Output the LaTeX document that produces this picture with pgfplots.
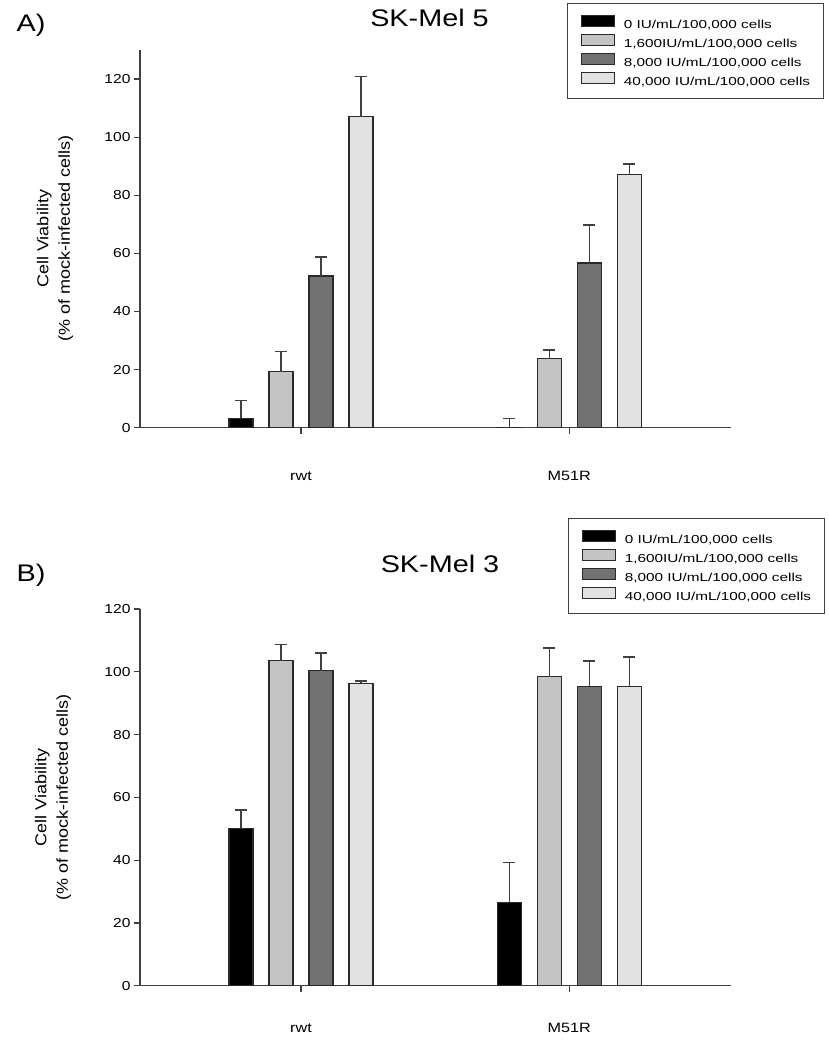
\documentclass[border=0pt]{standalone}
\usepackage{fontspec}
\setmainfont{Liberation Sans}[FakeStretch=1.2]
\newfontfamily\legfont{Liberation Sans}[FakeStretch=1.32]
\newfontfamily\labfont{Liberation Sans}[FakeStretch=1.14]
\usepackage{pgfplots}
\pgfplotsset{compat=1.18}

\definecolor{cA}{HTML}{000000}
\definecolor{cB}{HTML}{C4C4C4}
\definecolor{cC}{HTML}{727272}
\definecolor{cD}{HTML}{E2E2E2}
\definecolor{edge}{HTML}{2A2A2A}
\definecolor{axisgray}{HTML}{404040}

% panel A: SK-Mel 5  (x: 0 = rwt, 1 = M51R; y err = upper SD)
\pgfplotstableread{
x y err
0 3.2 6.1
1 0.0 3.2
}\melAa
\pgfplotstableread{
x y err
0 19.3 6.9
1 23.7 3.1
}\melAb
\pgfplotstableread{
x y err
0 52.2 6.6
1 56.7 13.1
}\melAc
\pgfplotstableread{
x y err
0 107.0 13.8
1 87.0 3.8
}\melAd
% panel B: SK-Mel 3
\pgfplotstableread{
x y err
0 50.2 5.8
1 26.4 12.9
}\melBa
\pgfplotstableread{
x y err
0 103.5 5.1
1 98.4 9.2
}\melBb
\pgfplotstableread{
x y err
0 100.3 5.7
1 95.4 8.0
}\melBc
\pgfplotstableread{
x y err
0 96.3 0.7
1 95.4 9.3
}\melBd

\pgfplotsset{
  panel/.style={
    scale only axis, width=591pt,
    anchor=south west,
    ybar, bar width=24pt,
    xmin=-0.6, xmax=1.603, ymin=0,
    axis lines*=left,
    axis line style={axisgray, line width=1.4pt},
    tick style={axisgray, line width=1.2pt},
    tick align=outside, major tick length=6pt,
    xtick={0,1}, xticklabels={rwt,M51R},
    ytick={0,20,...,120},
    /pgf/number format/assume math mode=true,
    yticklabel style={font=\fontsize{13}{15}\selectfont},
    xticklabel style={font=\fontsize{13.5}{15}\selectfont},
    ylabel={Cell Viability\\(\% of mock-infected cells)},
    ylabel style={align=center, font=\labfont\fontsize{15.8}{21.5}\selectfont},
    legend cell align=left,
    legend image code/.code={\draw[##1, line width=1.1pt] (0pt,-1.5pt) rectangle (33pt,9.5pt); \path (42pt,0pt);},
    legend style={anchor=north west, draw=axisgray, line width=1.3pt,
      inner xsep=13pt, inner ysep=11pt, row sep=3.5pt,
      font=\legfont\fontsize{11.6}{13}\selectfont,
      nodes={inner sep=0pt, text height=9.5pt, text depth=1.5pt}},
    error bars/y dir=plus, error bars/y explicit,
    error bars/error bar style={axisgray, line width=1.4pt},
    error bars/error mark options={rotate=90, axisgray, line width=1.4pt, mark size=6pt},
  },
  s1/.style={fill=cA, draw=edge, line width=1.1pt, bar shift=-60pt},
  s2/.style={fill=cB, draw=edge, line width=1.1pt, bar shift=-20pt},
  s3/.style={fill=cC, draw=edge, line width=1.1pt, bar shift=20pt},
  s4/.style={fill=cD, draw=edge, line width=1.1pt, bar shift=60pt},
}

\begin{document}
\begin{tikzpicture}
\useasboundingbox (0pt,0pt) rectangle (829pt,1050pt);

\begin{axis}[panel, at={(140pt,622.3pt)}, height=377.7pt, ymax=130,
  xticklabel style={anchor=base, yshift=-47pt},
  ylabel style={at={(axis description cs:-0.1438,0.5)}, anchor=center},
  legend style={at={(axis description cs:0.7225,1.1245)}}]
\addplot[s1] table[x=x, y=y, y error=err] {\melAa};
\addplot[s2] table[x=x, y=y, y error=err] {\melAb};
\addplot[s3] table[x=x, y=y, y error=err] {\melAc};
\addplot[s4] table[x=x, y=y, y error=err] {\melAd};
\addlegendentry{0 IU/mL/100,000 cells}
\addlegendentry{1,600IU/mL/100,000 cells}
\addlegendentry{8,000 IU/mL/100,000 cells}
\addlegendentry{40,000 IU/mL/100,000 cells}
\end{axis}

\begin{axis}[panel, at={(140pt,64.3pt)}, height=376.7pt, ymax=120,
  xticklabel style={anchor=base, yshift=-41pt},
  ylabel style={at={(axis description cs:-0.147,0.5)}, anchor=center},
  legend style={at={(axis description cs:0.7242,1.2416)}}]
\addplot[s1] table[x=x, y=y, y error=err] {\melBa};
\addplot[s2] table[x=x, y=y, y error=err] {\melBb};
\addplot[s3] table[x=x, y=y, y error=err] {\melBc};
\addplot[s4] table[x=x, y=y, y error=err] {\melBd};
\addlegendentry{0 IU/mL/100,000 cells}
\addlegendentry{1,600IU/mL/100,000 cells}
\addlegendentry{8,000 IU/mL/100,000 cells}
\addlegendentry{40,000 IU/mL/100,000 cells}
\end{axis}

\node[font=\fontsize{24}{28}\selectfont] at (429.5pt,1031.7pt) {SK-Mel 5};
\node[font=\fontsize{24}{28}\selectfont] at (440pt,486pt) {SK-Mel 3};
\node[font=\fontsize{24}{28}\selectfont] at (31pt,1025pt) {A)};
\node[font=\fontsize{24}{28}\selectfont] at (31pt,475pt) {B)};
\end{tikzpicture}
\end{document}
